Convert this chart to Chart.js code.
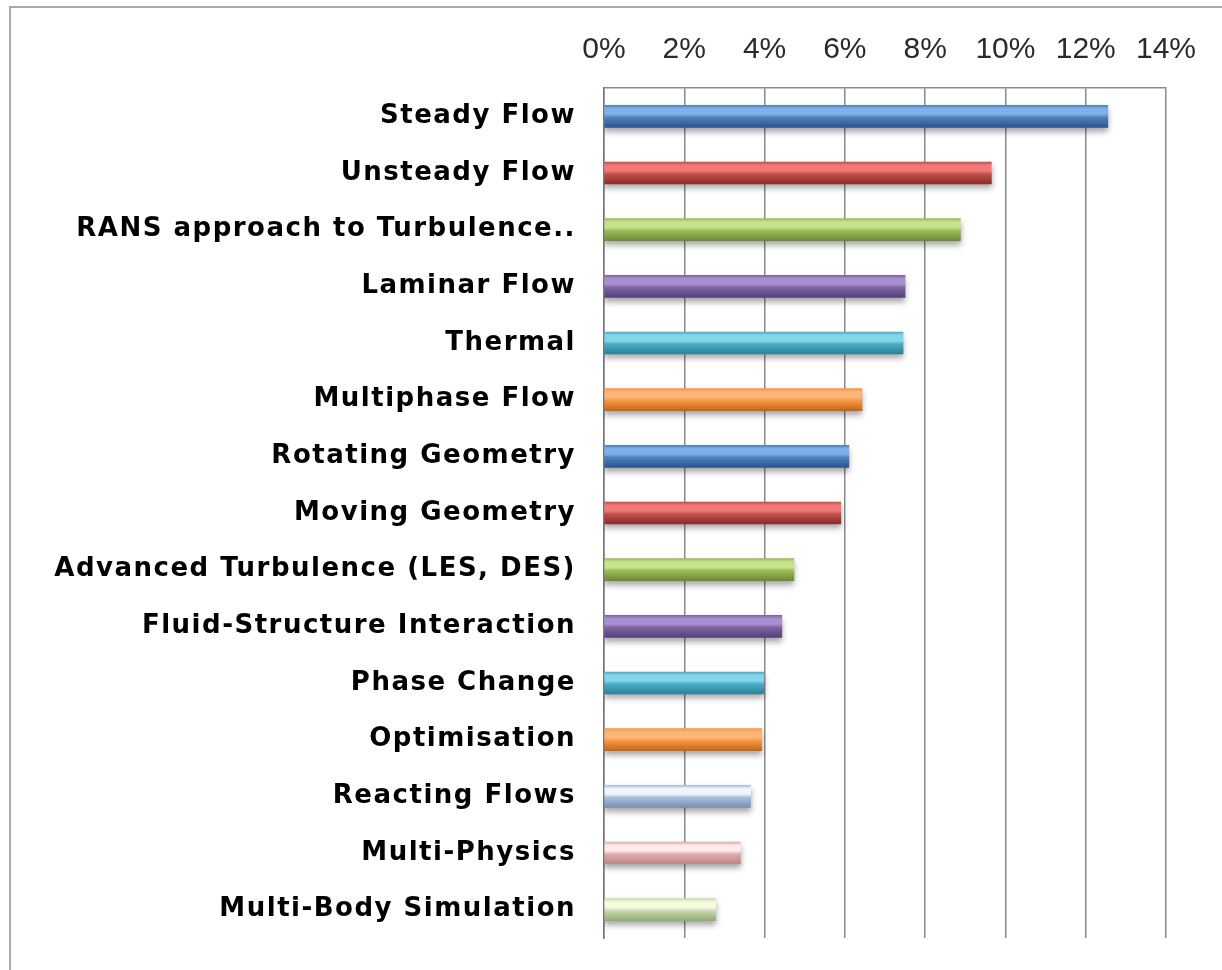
<!DOCTYPE html>
<html>
<head>
<meta charset="utf-8">
<script src="https://cdn.jsdelivr.net/npm/chart.js@4.4.1/dist/chart.umd.min.js"></script>
<style>
  html, body { margin: 0; padding: 0; background: #fff; overflow: hidden; }
  #frame { position: absolute; left: 9px; top: 6px; width: 1400px; height: 1200px; border: 2px solid #a9a9a9; }
  #chart { position: absolute; left: 0; top: 0; }
</style>
</head>
<body>
<div id="frame"></div>
<canvas id="chart" width="1222" height="970"></canvas>
<script>
// Категории и значения (%)
const categories = [
    'Steady Flow', 'Unsteady Flow', 'RANS approach to Turbulence..', 'Laminar Flow', 'Thermal',
    'Multiphase Flow', 'Rotating Geometry', 'Moving Geometry', 'Advanced Turbulence (LES, DES)',
    'Fluid-Structure Interaction', 'Phase Change', 'Optimisation', 'Reacting Flows',
    'Multi-Physics', 'Multi-Body Simulation'
];
const shares = [12.55, 9.65, 8.88, 7.5, 7.45, 6.43, 6.1, 5.9, 4.73, 4.43, 3.98, 3.93, 3.65, 3.4, 2.78];
const tickValues = [0, 2, 4, 6, 8, 10, 12, 14];

// Цвета: верх / середина / низ цилиндра
const topColors = ['#7fb0ea', '#f27a76', '#c6e38c', '#a98fcf', '#84d6ea', '#fbb677',
                   '#7fb0ea', '#f27a76', '#c6e38c', '#a98fcf', '#84d6ea', '#fbb677',
                   '#eef6fd', '#fdeaea', '#f6fbde'];
const midColors = ['#4f81bd', '#c0504d', '#9bbb59', '#8064a2', '#4bacc6', '#f79646',
                   '#4f81bd', '#c0504d', '#9bbb59', '#8064a2', '#4bacc6', '#f79646',
                   '#a9bfdc', '#e1aaaa', '#c9d9ad'];
const bottomColors = ['#2c5390', '#8c2b28', '#6c8a33', '#563f7c', '#2a8299', '#c26717',
                      '#2c5390', '#8c2b28', '#6c8a33', '#563f7c', '#2a8299', '#c26717',
                      '#7690b6', '#b98686', '#93a877'];

// Градиент для каждого бара по его позиции на оси
function barGradient(context) {
    const chart = context.chart;
    const i = context.dataIndex;
    if (!chart.chartArea) return midColors[i];
    const y = chart.scales.y.getPixelForValue(i);
    const g = chart.ctx.createLinearGradient(0, y - 11, 0, y + 11);
    g.addColorStop(0, midColors[i]);
    g.addColorStop(0.15, topColors[i]);
    g.addColorStop(0.4, topColors[i]);
    g.addColorStop(0.55, midColors[i]);
    g.addColorStop(1, bottomColors[i]);
    return g;
}

// Разрядка текста подписей и тень под барами
const stylePlugin = {
    id: 'stylePlugin',
    beforeDraw(chart) { chart.ctx.letterSpacing = '0px'; },
    beforeDatasetsDraw(chart) {
        const ctx = chart.ctx;
        ctx.save();
        ctx.shadowColor = 'rgba(0,0,0,0.35)';
        ctx.shadowBlur = 6;
        ctx.shadowOffsetY = 4;
    },
    afterDatasetsDraw(chart) {
        chart.ctx.restore();
        chart.ctx.letterSpacing = '1.5px';
    },
    afterDraw(chart) { chart.ctx.letterSpacing = '0px'; }
};

document.addEventListener('DOMContentLoaded', function() {
    const ctx = document.getElementById('chart').getContext('2d');
    new Chart(ctx, {
        type: 'bar',
        data: {
            labels: categories,
            datasets: [{
                data: shares,
                backgroundColor: barGradient,
                borderWidth: 0,
                barThickness: 22
            }]
        },
        plugins: [stylePlugin],
        options: {
            indexAxis: 'y',
            responsive: false,
            animation: false,
            layout: { padding: { left: 0, top: 0, right: 56, bottom: 32 } },
            plugins: {
                legend: { display: false },
                tooltip: { enabled: false }
            },
            scales: {
                x: {
                    position: 'top',
                    min: 0,
                    max: 14,
                    afterBuildTicks: scale => {
                        scale.ticks = tickValues.map(v => ({ value: v }));
                    },
                    afterFit: scale => { scale.height = 88; },
                    grid: { color: '#8a8a8a', lineWidth: 1.5, drawTicks: false, tickLength: 0 },
                    border: { display: true, color: '#8a8a8a', width: 1.5 },
                    ticks: {
                        padding: 20,
                        color: '#2a2a2a',
                        font: { family: "'Liberation Sans', Arial, sans-serif", size: 30 },
                        callback: v => v + '%'
                    }
                },
                y: {
                    afterFit: scale => {
                        scale.width = 604;
                        scale.paddingTop = 0;
                        scale.paddingBottom = 0;
                    },
                    grid: { display: false, drawTicks: false, tickLength: 0 },
                    border: { display: true, color: '#777', width: 1.5 },
                    ticks: {
                        z: 1,
                        padding: 28,
                        color: '#000',
                        font: { family: "'DejaVu Sans', sans-serif", size: 26, weight: 'bold' }
                    }
                }
            }
        }
    });
});
</script>
</body>
</html>
